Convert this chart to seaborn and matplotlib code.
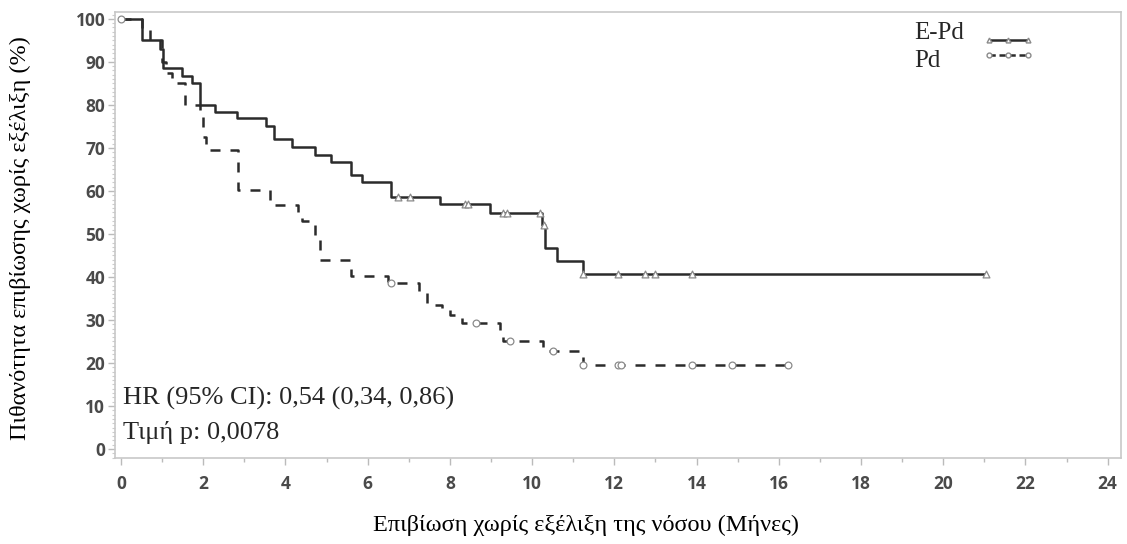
import numpy as np
import pandas as pd
import matplotlib
matplotlib.use("Agg")
import matplotlib.pyplot as plt
from matplotlib.lines import Line2D
from matplotlib.ticker import MultipleLocator
import seaborn as sns

# ---- data ----
epd_t = [0, 0.5, 0.95, 1.02, 1.48, 1.72, 1.93, 2.29, 2.83, 3.54, 3.72, 4.15, 4.72, 5.12, 5.6, 5.86,
         6.57, 7.76, 8.98, 10.25, 10.32, 10.6, 11.25, 21.05]
epd_s = [100, 95, 93, 88.5, 86.8, 85.2, 80, 78.4, 76.9, 75, 72, 70.2, 68.4, 66.8, 63.7, 62,
         58.5, 57, 54.8, 52, 46.7, 43.6, 40.6, 40.6]
epd_cens = [6.75, 7.03, 8.37, 8.45, 9.3, 9.4, 10.2, 10.28, 11.25, 12.1, 12.75, 12.99, 13.9, 21.05]

pd_t = [0, 0.5, 0.7, 1.0, 1.1, 1.23, 1.55, 1.93, 2.0, 2.08, 2.85, 3.63, 4.3, 4.4, 4.72, 4.85,
        5.6, 6.5, 7.25, 7.45, 7.8, 8.0, 8.3, 9.22, 9.3, 10.27, 11.25, 16.23]
pd_s = [100, 97.5, 95, 90, 87.5, 85, 80, 77.5, 72.5, 69.5, 60.2, 56.7, 55, 52.9, 48.5, 44,
        40.2, 38.5, 36.2, 33.5, 32.7, 31.2, 29.4, 27, 25.1, 22.9, 19.5, 19.5]
pd_cens = [0, 6.58, 8.64, 9.46, 10.5, 11.25, 12.1, 12.16, 13.9, 14.86, 16.23]

x_ticks = list(range(0, 25, 2))
y_ticks = list(range(0, 101, 10))
series_names = ["E-Pd", "Pd"]
hr_text = "HR (95% CI): 0,54 (0,34, 0,86)"
p_text = "Τιμή p: 0,0078"
xlabel = "Επιβίωση χωρίς εξέλιξη της νόσου (Μήνες)"
ylabel = "Πιθανότητα επιβίωσης χωρίς εξέλιξη (%)"


def step_at(times, surv, t):
    idx = np.searchsorted(np.asarray(times), t, side="right") - 1
    return np.asarray(surv)[np.clip(idx, 0, len(surv) - 1)]


sns.set_theme(style="white")
plt.rcParams["font.family"] = ["Liberation Serif", "DejaVu Serif"]

fig = plt.figure(figsize=(11.27, 5.44), dpi=100)
ax = fig.add_axes([0.102, 0.158, 0.8925, 0.820])

line_col = "#2b2b2b"
df_e = pd.DataFrame({"t": epd_t, "s": epd_s})
df_p = pd.DataFrame({"t": pd_t, "s": pd_s})
sns.lineplot(data=df_e, x="t", y="s", ax=ax, estimator=None, sort=False,
             drawstyle="steps-post", color=line_col, linewidth=1.8)
sns.lineplot(data=df_p, x="t", y="s", ax=ax, estimator=None, sort=False,
             drawstyle="steps-post", color=line_col, linewidth=1.8, linestyle=(0, (4, 4)))

ce = pd.DataFrame({"t": epd_cens, "s": step_at(epd_t, epd_s, np.array(epd_cens))})
cp = pd.DataFrame({"t": pd_cens, "s": step_at(pd_t, pd_s, np.array(pd_cens))})
sns.scatterplot(data=ce, x="t", y="s", ax=ax, marker="^", s=24, facecolor="white",
                edgecolor="#8a8a8a", linewidth=0.9, zorder=5)
sns.scatterplot(data=cp, x="t", y="s", ax=ax, marker="o", s=24, facecolor="white",
                edgecolor="#8a8a8a", linewidth=0.9, zorder=5)

ax.set_xlim(-0.146, 24.32)
ax.set_ylim(-2.1, 101.6)
ax.set_xticks(x_ticks)
ax.set_yticks(y_ticks)
ax.xaxis.set_minor_locator(MultipleLocator(1))
ax.yaxis.set_minor_locator(MultipleLocator(1))
tick_font = {"family": "Open Sans", "size": 12.5, "weight": "bold", "color": "#4a4a4a"}
ax.set_xticklabels([str(v) for v in x_ticks], fontdict=tick_font)
ax.set_yticklabels([str(v) for v in y_ticks], fontdict=tick_font)
ax.tick_params(axis="both", which="major", direction="out", length=5, width=1,
               color="#bbbbbb", bottom=True, left=True, pad=2)
ax.tick_params(axis="x", which="minor", direction="out", length=3, width=1,
               color="#bbbbbb", bottom=True)
ax.tick_params(axis="y", which="minor", direction="out", length=2, width=0.8,
               color="#cccccc", left=True)
ax.tick_params(axis="x", which="major", pad=7)
for sp in ax.spines.values():
    sp.set_color("#c8c8c8")
    sp.set_linewidth(1.2)

ax.set_xlabel(xlabel, fontsize=17.5, color="black")
ax.xaxis.set_label_coords(0.468, -0.150)
ax.xaxis.label.set_va("center")
ax.set_ylabel(ylabel, fontsize=17.5, color="black")
ax.yaxis.set_label_coords(-0.0944, 0.493)
ax.yaxis.label.set_va("center")

ax.text(0.008, 0.1345, hr_text, transform=ax.transAxes, fontsize=19, va="center", ha="left")
ax.text(0.008, 0.058, p_text, transform=ax.transAxes, fontsize=19, va="center", ha="left")

# legend: left-aligned series names; compact stacked line samples to their right
handles = [Line2D([], [], color=line_col, lw=1.8, marker="^", markersize=3.5,
                  markerfacecolor="white", markeredgecolor="#8a8a8a"),
           Line2D([], [], color=line_col, lw=1.8, linestyle=(0, (2.5, 1.5)), marker="o", markersize=3.5,
                  markerfacecolor="white", markeredgecolor="#8a8a8a")]
leg = ax.legend(handles, ["", ""], loc="upper left", bbox_to_anchor=(0.865, 0.948),
                frameon=False, fontsize=9, handlelength=3.7, handleheight=0.6,
                labelspacing=0.25, handletextpad=0, numpoints=3,
                borderaxespad=0, borderpad=0)
legend_y = [0.952, 0.890]
for name, yy in zip(series_names, legend_y):
    ax.text(0.795, yy, name, transform=ax.transAxes, fontsize=18, va="center", ha="left")

fig.savefig("out.png", dpi=100)
